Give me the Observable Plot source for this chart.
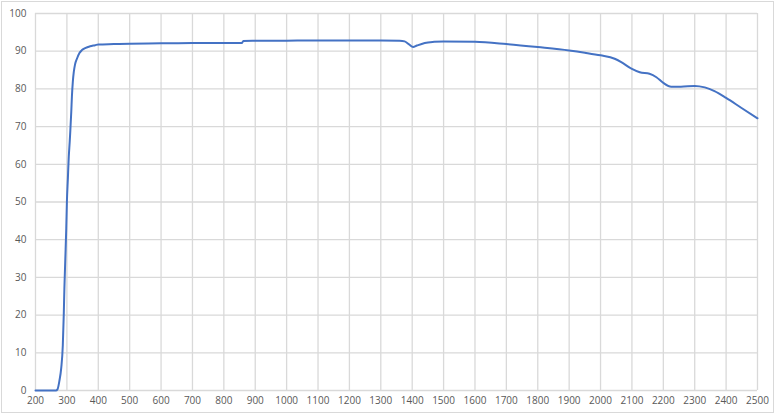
<!DOCTYPE html>
<html>
<head>
<meta charset="utf-8">
<script src="https://cdn.jsdelivr.net/npm/d3@7"></script>
<script src="https://cdn.jsdelivr.net/npm/@observablehq/plot@0.6"></script>
<style>
  html, body { margin: 0; padding: 0; background: #fff; }
  #chart svg { display: block; outline: 1px solid #d9d9d9; outline-offset: -2px; }
</style>
</head>
<body>
<div id="chart"></div>
<script>
const wavelength = [200, 265, 270, 276, 282, 287, 290, 292, 295, 298, 300, 303, 306, 309, 311, 314, 316, 319, 322, 326, 332, 340, 348, 360, 374, 390, 400, 450, 500, 600, 700, 800, 858, 862, 900, 1000, 1100, 1200, 1300, 1360, 1376, 1390, 1403, 1415, 1440, 1470, 1500, 1600, 1700, 1800, 1900, 1950, 2000, 2045, 2066, 2100, 2125, 2156, 2178, 2200, 2225, 2256, 2300, 2332, 2363, 2400, 2448, 2500];
const transmittance = [0, 0, 0.3, 2.5, 6, 12, 20, 27, 35, 43, 50, 56, 62, 66, 69, 74, 78, 82, 84.5, 86.5, 88, 89.5, 90.3, 90.9, 91.3, 91.6, 91.8, 91.9, 92.0, 92.1, 92.2, 92.2, 92.2, 92.7, 92.75, 92.8, 92.85, 92.85, 92.85, 92.8, 92.6, 91.8, 91.1, 91.5, 92.2, 92.5, 92.6, 92.5, 91.9, 91.1, 90.2, 89.6, 88.9, 88.0, 87.1, 85.3, 84.4, 84.0, 83.1, 81.6, 80.6, 80.6, 80.8, 80.4, 79.4, 77.6, 75.0, 72.2];
const xTicks = d3.range(200, 2501, 100);
const yTicks = d3.range(0, 101, 10);

const data = wavelength.map((w, i) => ({x: w, y: transmittance[i]}));

const chart = Plot.plot({
  width: 775,
  height: 414,
  marginLeft: 35,
  marginRight: 18,
  marginTop: 13,
  marginBottom: 24,
  style: {fontFamily: "'Open Sans', sans-serif", fontSize: "10px", color: "#595959", background: "#fff"},
  x: {domain: [200, 2500], ticks: xTicks, tickSize: 0, tickPadding: 6, label: null, tickFormat: d => String(d)},
  y: {domain: [0, 100], ticks: yTicks, tickSize: 0, tickPadding: 9, label: null},
  marks: [
    Plot.ruleX(xTicks, {stroke: "#d9d9d9", strokeWidth: 1.3}),
    Plot.ruleY(yTicks, {stroke: "#d9d9d9", strokeWidth: 1.3}),
    Plot.axisX({ticks: xTicks, tickSize: 0, tickPadding: 6, fill: "#595959", tickFormat: d => String(d)}),
    Plot.axisY({ticks: yTicks, tickSize: 0, tickPadding: 9, fill: "#595959"}),
    Plot.line(data, {x: "x", y: "y", stroke: "#4472C4", strokeWidth: 2, curve: "monotone-x"})
  ]
});
document.getElementById("chart").appendChild(chart);
</script>
</body>
</html>
